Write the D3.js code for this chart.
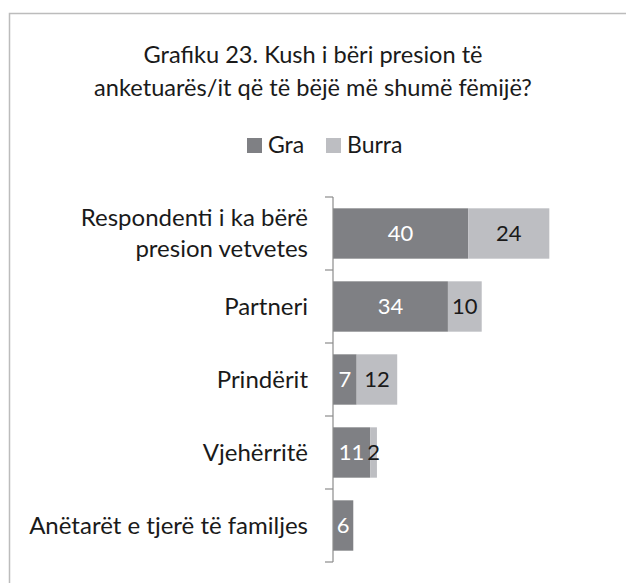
<!DOCTYPE html>
<html>
<head>
<meta charset="utf-8">
<script src="https://cdn.jsdelivr.net/npm/d3@7"></script>
<style>
  html, body { margin: 0; padding: 0; background: #fff; }
  svg { display: block; }
</style>
</head>
<body>
<div id="chart"></div>
<script>
const categories = [
  ["Respondenti i ka bërë", "presion vetvetes"],
  ["Partneri"],
  ["Prindërit"],
  ["Vjehërritë"],
  ["Anëtarët e tjerë të familjes"]
];
const seriesNames = ["Gra", "Burra"];
const graValues = [40, 34, 7, 11, 6];
const burraValues = [24, 10, 12, 2, 0];
const titleLines = ["Grafiku 23. Kush i bëri presion të", "anketuarës/it që të bëjë më shumë fëmijë?"];

const width = 626;
const height = 583;
const colors = { Gra: "#7f8084", Burra: "#bdbec2" };
const labelFont = "Lato, 'Open Sans', sans-serif";

const svg = d3.select("#chart")
  .append("svg")
  .attr("width", width)
  .attr("height", height);

// outer frame (runs off the right and bottom edge)
svg.append("rect")
  .attr("x", 9.5)
  .attr("y", 13.5)
  .attr("width", width)
  .attr("height", height)
  .attr("fill", "none")
  .attr("stroke", "#bcbcbc")
  .attr("stroke-width", 1.5);

// title
svg.append("text")
  .attr("x", 313)
  .attr("text-anchor", "middle")
  .style("font-family", labelFont)
  .style("font-size", "23.6px")
  .attr("fill", "#1a1a1a")
  .selectAll("tspan")
  .data(titleLines)
  .join("tspan")
  .attr("x", 313)
  .attr("y", (d, i) => 63 + i * 33)
  .text(d => d);

// legend
const legendX = [247, 326];
const legend = svg.append("g");
seriesNames.forEach((s, i) => {
  legend.append("rect")
    .attr("x", legendX[i])
    .attr("y", 138)
    .attr("width", 15)
    .attr("height", 15)
    .attr("fill", colors[s]);
  legend.append("text")
    .attr("x", legendX[i] + 21)
    .attr("y", 153)
    .style("font-family", labelFont)
    .style("font-size", "23px")
    .attr("fill", "#1a1a1a")
    .text(s);
});

// scales
const x = d3.scaleLinear()
  .domain([0, 70])
  .range([333, 333 + 70 * 3.38]);

const keys = categories.map((c, i) => i);
const y = d3.scaleBand()
  .domain(keys)
  .range([197, 562])
  .paddingInner(0.31)
  .paddingOuter(0.155);

const rows = keys.map(i => ({ i, Gra: graValues[i], Burra: burraValues[i] }));
const stacked = d3.stack().keys(seriesNames)(rows);

// bars
const layers = svg.append("g")
  .selectAll("g")
  .data(stacked)
  .join("g")
  .attr("fill", d => colors[d.key]);

layers.selectAll("rect")
  .data(d => d.filter(p => p[1] > p[0]))
  .join("rect")
  .attr("x", d => x(d[0]))
  .attr("y", d => y(d.data.i))
  .attr("width", d => x(d[1]) - x(d[0]))
  .attr("height", y.bandwidth());

// value labels
stacked.forEach(layer => {
  svg.append("g")
    .selectAll("text")
    .data(layer.filter(p => p[1] > p[0]))
    .join("text")
    .attr("x", d => (x(d[0]) + x(d[1])) / 2)
    .attr("y", d => y(d.data.i) + y.bandwidth() / 2)
    .attr("dy", "0.36em")
    .attr("text-anchor", "middle")
    .style("font-family", labelFont)
    .style("font-size", "22px")
    .attr("fill", layer.key === "Gra" ? "#ffffff" : "#1a1a1a")
    .text(d => d[1] - d[0]);
});

// category axis with ticks between categories
const axis = svg.append("g")
  .attr("stroke", "#8c8c8c")
  .attr("stroke-width", 1.2);
const [y0, y1] = y.range();
axis.append("line")
  .attr("x1", x(0))
  .attr("x2", x(0))
  .attr("y1", y0)
  .attr("y2", y1);
d3.range(categories.length + 1).forEach(k => {
  const ty = y0 + k * y.step();
  axis.append("line")
    .attr("x1", x(0) - 8)
    .attr("x2", x(0))
    .attr("y1", ty)
    .attr("y2", ty);
});

// category labels
const catLabels = svg.append("g")
  .selectAll("text")
  .data(categories)
  .join("text")
  .attr("text-anchor", "end")
  .style("font-family", labelFont)
  .style("font-size", "24px")
  .attr("fill", "#1a1a1a");

catLabels.each(function(lines, i) {
  const cy = y(i) + y.bandwidth() / 2;
  const lh = 31;
  d3.select(this).selectAll("tspan")
    .data(lines)
    .join("tspan")
    .attr("x", 308)
    .attr("y", (d, j) => cy + (j - (lines.length - 1) / 2) * lh)
    .attr("dy", "0.34em")
    .text(d => d);
});
</script>
</body>
</html>
